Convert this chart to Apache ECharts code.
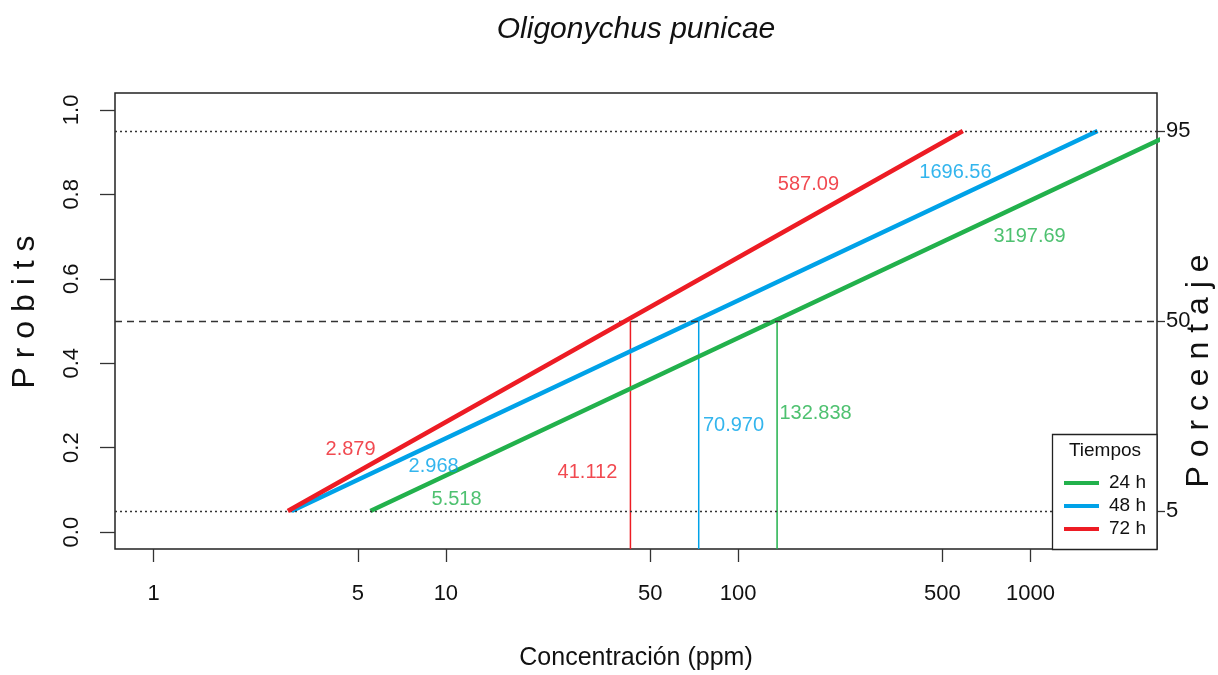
<!DOCTYPE html>
<html>
<head>
<meta charset="utf-8">
<script src="https://cdn.jsdelivr.net/npm/echarts@6/dist/echarts.min.js"></script>
<style>html,body{margin:0;padding:0;background:#fff}#c{width:1218px;height:675px}</style>
</head>
<body>
<div id="c"></div>
<script>
// ---- data ----
const tiempos = ['24 h', '48 h', '72 h'];
const lc5  = [5.518, 2.968, 2.879];
const lc50 = [132.838, 70.970, 41.112];
const lc95 = [3197.69, 1696.56, 587.09];
// x position (ppm) of the vertical LC50 markers
const lc50Marker = [135.9, 73.3, 42.8];
const probLevels = [0.05, 0.5, 0.95];
const pctLabels = ['5', '50', '95'];
const xTickValues = [1, 5, 10, 50, 100, 500, 1000];
const yTickValues = [0, 0.2, 0.4, 0.6, 0.8, 1.0];

// ---- styling / layout (not data) ----
const colors = ['#22B14C', '#00A2E8', '#ED1C24'];
const FONT = 'Liberation Sans, Arial, Helvetica, sans-serif';
const xRange = [1, 2000];
const yMin = -0.04, yMax = 1.04;
const lg = Math.log10;
const xExt = (lg(xRange[1]) - lg(xRange[0])) * 0.04;
// annotation anchor positions (concentration, probit) per tiempo
const posLC5  = [[10.88, 0.078], [9.08, 0.156], [4.72, 0.195]];
const posLC50 = [[184, 0.280], [96.4, 0.252], [30.5, 0.142]];
const posLC95 = [[993, 0.699], [554, 0.851], [174, 0.823]];

const chart = echarts.init(document.getElementById('c'));

const series = [];
tiempos.forEach((t, i) => {
  series.push({
    name: t, type: 'line', z: 3 + i,
    data: [[lg(lc5[i]), probLevels[0]], [lg(lc50[i]), probLevels[1]], [lg(lc95[i]), probLevels[2]]],
    showSymbol: false, symbol: 'none', clip: true,
    lineStyle: {color: colors[i], width: 4.5},
    itemStyle: {color: colors[i]},
    silent: true, animation: false
  });
});
tiempos.forEach((t, i) => {
  series.push({
    name: 'v' + t, type: 'line', z: 2,
    data: [[lg(lc50Marker[i]), probLevels[1]], [lg(lc50Marker[i]), yMin]],
    showSymbol: false, symbol: 'none',
    lineStyle: {color: colors[i], width: 1.5},
    silent: true, animation: false
  });
});
series.push({
  name: 'refs', type: 'line', data: [], z: 2, animation: false, silent: true,
  markLine: {
    symbol: ['none', 'none'], silent: true, animation: false,
    label: {show: false},
    data: probLevels.map((p, k) => ({
      yAxis: p,
      lineStyle: {color: '#333', width: 1.3, type: k === 1 ? [7, 5] : [2, 3]}
    }))
  }
});
const ann = [];
tiempos.forEach((t, i) => {
  ann.push({value: [lg(posLC5[i][0]), posLC5[i][1]], name: lc5[i].toFixed(3), label: {color: colors[i]}});
  ann.push({value: [lg(posLC50[i][0]), posLC50[i][1]], name: lc50[i].toFixed(3), label: {color: colors[i]}});
  ann.push({value: [lg(posLC95[i][0]), posLC95[i][1]], name: lc95[i].toFixed(2), label: {color: colors[i]}});
});
series.push({
  name: 'ann', type: 'scatter', data: ann, symbolSize: 0, z: 6, silent: true, animation: false,
  itemStyle: {color: 'transparent'},
  label: {show: true, position: 'inside', formatter: '{b}', fontSize: 20, fontFamily: FONT}
});

chart.setOption({
  animation: false,
  backgroundColor: '#fff',
  grid: {left: 115, right: 61, top: 93, bottom: 126, show: true, borderColor: '#222', borderWidth: 1.5, backgroundColor: 'transparent'},
  xAxis: {
    type: 'value', min: lg(xRange[0]) - xExt, max: lg(xRange[1]) + xExt,
    axisLine: {show: false, onZero: false}, splitLine: {show: false},
    axisTick: {show: true, length: 13, lineStyle: {color: '#333', width: 1.3}, customValues: xTickValues.map(lg)},
    axisLabel: {customValues: xTickValues.map(lg), formatter: v => String(Math.round(Math.pow(10, v))),
      fontSize: 22, fontFamily: FONT, color: '#111', margin: 34}
  },
  yAxis: [{
    type: 'value', min: yMin, max: yMax, position: 'left',
    axisLine: {show: false, onZero: false}, splitLine: {show: false},
    axisTick: {show: true, length: 15, lineStyle: {color: '#333', width: 1.3}, customValues: yTickValues},
    axisLabel: {customValues: yTickValues, formatter: v => v.toFixed(1), rotate: 90,
      fontSize: 22, fontFamily: FONT, color: '#111', margin: 32}
  }, {
    type: 'value', min: yMin, max: yMax, position: 'right',
    axisLine: {show: false, onZero: false}, splitLine: {show: false},
    axisTick: {show: true, length: 8, lineStyle: {color: '#333', width: 1.3}, customValues: probLevels},
    axisLabel: {customValues: probLevels, formatter: v => pctLabels[probLevels.findIndex(p => Math.abs(p - v) < 1e-9)],
      fontSize: 22, fontFamily: FONT, color: '#111', margin: 9}
  }],
  legend: {
    data: tiempos, orient: 'vertical', left: 1059, top: 468,
    icon: 'rect', itemWidth: 35, itemHeight: 4, itemGap: 3,
    textStyle: {fontSize: 19, fontFamily: FONT, color: '#111', lineHeight: 20, padding: [0, 0, 0, 5]},
    selectedMode: false, z: 10
  },
  graphic: [
    {type: 'rect', z: 8, shape: {x: 1052.5, y: 434.5, width: 104.5, height: 115}, style: {fill: '#fff', stroke: '#222', lineWidth: 1.3}},
    {type: 'text', z: 9, style: {text: 'Tiempos', x: 1105, y: 451, align: 'center', verticalAlign: 'middle', font: '19px ' + FONT, fill: '#111'}},
    {type: 'text', z: 9, style: {text: 'Oligonychus punicae', x: 636, y: 30, align: 'center', verticalAlign: 'middle', font: 'italic 30px ' + FONT, fill: '#111'}},
    {type: 'text', z: 9, style: {text: 'Concentración (ppm)', x: 636, y: 658, align: 'center', verticalAlign: 'middle', font: '25px ' + FONT, fill: '#111'}},
    {type: 'text', z: 9, x: 25, y: 312, rotation: Math.PI / 2, style: {text: 'P r o b i t s', x: 0, y: 0, align: 'center', verticalAlign: 'middle', font: '32px ' + FONT, fill: '#111'}},
    {type: 'text', z: 9, x: 1199, y: 371, rotation: Math.PI / 2, style: {text: 'P o r c e n t a j e', x: 0, y: 0, align: 'center', verticalAlign: 'middle', font: '32px ' + FONT, fill: '#111'}}
  ],
  series: series
});
</script>
</body>
</html>
